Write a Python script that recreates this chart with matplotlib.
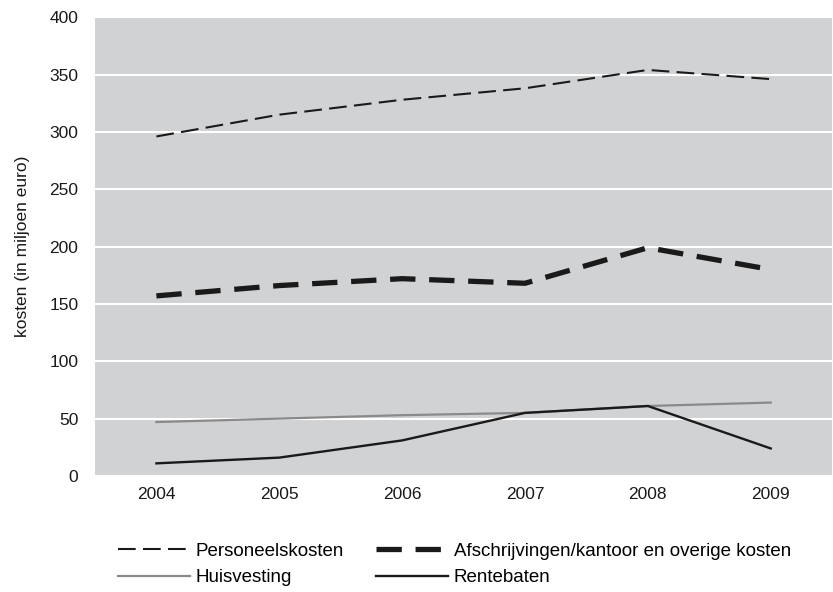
import matplotlib
matplotlib.use('Agg')
import matplotlib.pyplot as plt

plt.rcParams['font.family'] = ['Liberation Sans', 'DejaVu Sans']

# ── data ─────────────────────────────────────────────
years = ['2004', '2005', '2006', '2007', '2008', '2009']
personeel = [296, 315, 328, 338, 354, 346]
afschrijving = [157, 166, 172, 168, 199, 180]
huisvesting = [47, 50, 53, 55, 61, 64]
rentebaten = [11, 16, 31, 55, 61, 24]

# ── plot ─────────────────────────────────────────────
fig = plt.figure(figsize=(8.33, 5.92), dpi=100)
ax = fig.add_axes([0.114, 0.196, 0.885, 0.775])
ax.set_facecolor('#d1d2d4')

x = range(len(years))
l1, = ax.plot(x, personeel, color='#1a1a1a', lw=1.5, dashes=(8.5, 3.5), label='Personeelskosten')
l2, = ax.plot(x, afschrijving, color='#1a1a1a', lw=3.8, dashes=(4.8, 2.6), label='Afschrijvingen/kantoor en overige kosten')
l3, = ax.plot(x, huisvesting, color='#8a8a8a', lw=1.6, label='Huisvesting')
l4, = ax.plot(x, rentebaten, color='#1a1a1a', lw=1.7, label='Rentebaten')

ax.set_xlim(-0.5, len(years) - 0.5)
ax.set_ylim(0, 400)
ax.set_xticks(list(x))
ax.set_xticklabels(years)
ax.set_yticks(range(0, 401, 50))
ax.yaxis.grid(True, color='white', lw=1.5)
ax.set_axisbelow(True)
for s in ax.spines.values():
    s.set_visible(False)
ax.tick_params(length=0, labelsize=12.5, colors='#1a1a1a')
ax.tick_params(axis='x', pad=8)
ax.tick_params(axis='y', pad=12)
ax.set_ylabel('kosten (in miljoen euro)', fontsize=12.5, color='#1a1a1a', labelpad=14)

# column-wise fill: order so rows read Personeel/Afschrijving, Huisvesting/Rentebaten
ax.legend([l1, l3, l2, l4], [l.get_label() for l in (l1, l3, l2, l4)],
          loc='upper left', bbox_to_anchor=(0.031, -0.145), ncol=2, frameon=False,
          fontsize=13.5, handlelength=3.85, handletextpad=0.3, columnspacing=1.7,
          labelspacing=0.5, borderaxespad=0, borderpad=0)

fig.savefig('out.png', dpi=100, facecolor='white')
